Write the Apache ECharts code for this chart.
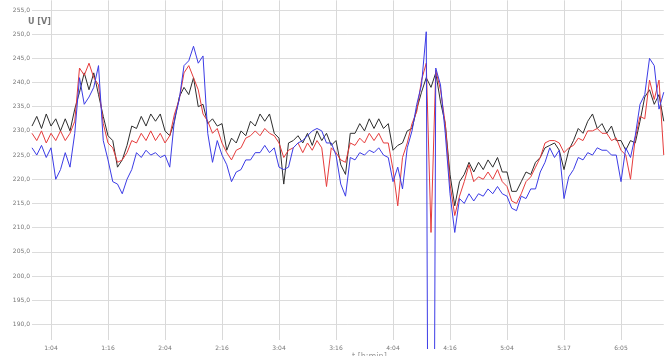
<!DOCTYPE html>
<html><head><meta charset="utf-8">
<script src="https://cdn.jsdelivr.net/npm/echarts@6/dist/echarts.min.js"></script>
<style>html,body{margin:0;padding:0;background:#fff}#c{width:666px;height:356px}</style>
</head><body><div id="c"></div>
<script>
const tickLabels = ["1:04","1:16","2:04","2:16","3:04","3:16","4:04","4:16","5:04","5:17","6:05"];
const tickStart = 4, tickStep = 12;
const black = [231,233,230.5,233.5,231,232.5,230,232.5,230,234.5,
  238,242,238.5,242,237.5,
  233,229,228,222.5,224,227,231,
  230.5,233,231,233.5,232,233.5,230,229,
  232,237,239,237.5,241,235,235.5,
  231.5,232.5,231,231.5,226,228.5,227.5,
  230,229,232,231,233.5,232,233.5,229.5,228.5,
  219,227.5,228,229,227.5,229.5,227,230,228,229.5,227,228,223,221,
  229.5,229.5,231.5,230,232.5,230.5,232.5,230.5,231.5,226,227,227.5,
  230,230.5,234.5,238,241,239,242,236,231.5,
  221,214.5,219.5,221,223.5,221.5,223.5,222,224,222.5,224.5,221.5,
  221.5,217.5,217.5,219.5,221.5,221,223.5,224.5,
  226.5,227,227.5,226,222,226,228,230.5,229.5,232,233.5,230.5,231.5,229.5,231,228,228,226,228,227.5,
  232,237,238.5,235.5,237.5,232];
const red = [229.5,228,230,227.5,229.5,228,230,228,229.5,232,
  243,241.5,244,241,239.5,
  231.5,227.5,226.5,223.5,224,225.5,228,
  227.5,229.5,228,230,228,229.5,227.5,229,
  233.5,236.5,242,243.5,241,238.5,233.5,
  232,229.5,230.5,227.5,225.5,224,226,
  226.5,228.5,229,230,229,230.5,229.5,229,227.5,
  224.5,226,226.5,227.5,225.5,227.5,226,228,226.5,218.5,226.5,225.5,224,223.5,
  227.5,227,228.5,227.5,229.5,228,229.5,227.5,227.5,222,214.5,224.5,
  227.5,231.5,234,240.5,244,209,242.5,238.5,231.5,
  219,212.5,216.5,219.5,223,219.5,220.5,220,221.5,220,222,219.5,
  218.5,215.5,215,217,219.5,220.5,222.5,224.5,
  227.5,228,228,227.5,225.5,226.5,227,228.5,228,230,230,230.5,229.5,229.5,228,228.5,226,225,220,228.5,
  233,232.5,240.5,236.5,240.5,225];
const blue = [226.5,225,227,224.5,226.5,220,222,225.5,222.5,229.5,
  241,235.5,237,239,243.5,
  228,224,219.5,219,217,220,222,
  225.5,224.5,226,225,225.5,224.5,225,222.5,
  232.5,236.5,243.5,244.5,247.5,244,245.5,
  229.5,223.5,228,225,223,219.5,221.5,
  222,224,224,225.5,225.5,227,225.5,226.5,222.5,
  222,222.5,226.5,227.5,228,229,230,230.5,230,227.5,227.5,225,219,216.5,
  224.5,224,225.5,225,226,225.5,226.5,225,224.5,219.5,222.5,218,
  226.5,230,235.5,239.5,250.5,0,243,239.5,229.5,
  217,209,216,215,217,215.5,217,216.5,218,217,218.5,217,
  216.5,214,213.5,216.5,216,218,218,221.5,
  223.5,226.5,224.5,226,216,220.5,222,224.5,224,225.5,225,226.5,226,226,225,225,219.5,226.5,224.5,229,
  235.5,237.5,245,243.5,234.5,238];
const yMin = 185, yMax = 257, yStep = 5;

const N = black.length;
const categories = Array.from({length: N}, (_, i) =>
  (i >= tickStart && (i - tickStart) % tickStep === 0) ? (tickLabels[(i - tickStart) / tickStep] || '') : '');
const isTick = (i) => i >= tickStart && (i - tickStart) % tickStep === 0 && (i - tickStart) / tickStep < tickLabels.length;

const font = 'DejaVu Sans';
const chart = echarts.init(document.getElementById('c'), null, {renderer: 'canvas'});
chart.setOption({
  animation: false,
  backgroundColor: '#fff',
  grid: [
    {left: 32, right: 2.25, top: 0.33, bottom: 7.5},
    {left: 32, right: 2.25, top: 0.33, bottom: 16}
  ],
  xAxis: [
    {gridIndex: 0, type: 'category', data: categories, boundaryGap: false,
     axisLine: {show: false}, axisTick: {show: false}, axisLabel: {show: false}, splitLine: {show: false}},
    {gridIndex: 1, type: 'category', data: categories, boundaryGap: false,
     axisLine: {show: false}, axisTick: {show: false},
     axisLabel: {interval: (i) => isTick(i), fontSize: 6, color: '#777', margin: 5, fontFamily: font},
     splitLine: {show: true, interval: (i) => isTick(i), lineStyle: {color: '#d9d9d9', width: 1}}}
  ],
  yAxis: [
    {gridIndex: 0, type: 'value', min: yMin, max: yMax, interval: yStep,
     axisLine: {show: false}, axisTick: {show: false},
     axisLabel: {fontSize: 6, color: '#777', margin: 2, fontFamily: font, showMinLabel: false, showMaxLabel: false,
       formatter: (v) => v.toFixed(1).replace('.', ',')},
     splitLine: {show: true, showMinLine: false, showMaxLine: false, lineStyle: {color: '#dcdcdc', width: 1}}},
    {gridIndex: 1, type: 'value', show: false}
  ],
  graphic: [
    {type: 'text', left: 28, top: 18, style: {text: 'U [V]', fontSize: 8, fontWeight: 'bold', fill: '#777', fontFamily: font}},
    {type: 'text', left: 352, top: 353, style: {text: 't [h:min]', fontSize: 8, fill: '#999', fontFamily: font}}
  ],
  series: [
    {name: 'L1', type: 'line', data: black, xAxisIndex: 0, yAxisIndex: 0, showSymbol: false, clip: true,
     lineStyle: {color: '#2e2e2e', width: 1}, itemStyle: {color: '#2e2e2e'}},
    {name: 'L2', type: 'line', data: red, xAxisIndex: 0, yAxisIndex: 0, showSymbol: false, clip: true,
     lineStyle: {color: '#e63c3c', width: 1}, itemStyle: {color: '#e63c3c'}},
    {name: 'L3', type: 'line', data: blue, xAxisIndex: 0, yAxisIndex: 0, showSymbol: false, clip: true,
     lineStyle: {color: '#3c3ce6', width: 1}, itemStyle: {color: '#3c3ce6'}}
  ]
});
</script></body></html>
